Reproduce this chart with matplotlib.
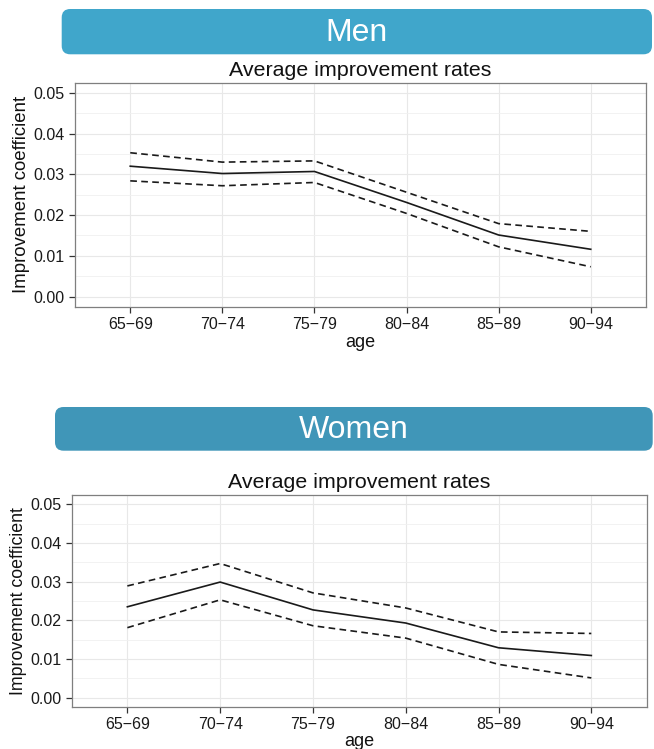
import numpy as np
import matplotlib.pyplot as plt
from matplotlib.patches import FancyBboxPatch

plt.rcParams['font.family'] = ['Liberation Sans', 'DejaVu Sans']

# --- Data ---
ages = ["65-69", "70-74", "75-79", "80-84", "85-89", "90-94"]

men_mean = [0.0320, 0.0302, 0.0307, 0.0231, 0.0151, 0.0116]
men_upper = [0.0353, 0.0330, 0.0333, 0.0256, 0.0179, 0.0160]
men_lower = [0.0284, 0.0272, 0.0280, 0.0204, 0.0122, 0.0073]

women_mean = [0.0235, 0.0299, 0.0227, 0.0193, 0.0129, 0.0109]
women_upper = [0.0289, 0.0347, 0.0271, 0.0232, 0.0170, 0.0166]
women_lower = [0.0181, 0.0253, 0.0186, 0.0154, 0.0086, 0.0051]

W, H = 654, 749
fig = plt.figure(figsize=(W / 100, H / 100), dpi=100)


def px_box(left, top, right, bottom):
    # pixel box (from top-left) -> figure fraction rect
    return [left / W, 1 - bottom / H, (right - left) / W, (bottom - top) / H]


def banner(left, top, right, bottom, color, label):
    x, y, w, h = px_box(left, top, right, bottom)
    patch = FancyBboxPatch((x, y), w, h,
                           boxstyle="round,pad=0,rounding_size=0.013",
                           transform=fig.transFigure, facecolor=color,
                           edgecolor='none', mutation_aspect=W / H)
    fig.patches.append(patch)
    fig.text(x + w / 2, y + h / 2 - 1 / H, label, ha='center', va='center',
             color='white', fontsize=23)


def panel(rect, mean, upper, lower, title, title_y, ylab_x, xlab_y, ylab_size):
    ax = fig.add_axes(rect)
    xs = np.arange(len(ages))
    dash = (0, (4, 2.6))
    ax.plot(xs, upper, color='#1a1a1a', lw=1.2, ls=dash)
    ax.plot(xs, lower, color='#1a1a1a', lw=1.2, ls=dash)
    ax.plot(xs, mean, color='#1a1a1a', lw=1.2)

    ax.set_xlim(-0.6, len(ages) - 1 + 0.6)
    ax.set_ylim(-0.0025, 0.0525)
    ax.set_xticks(xs)
    ax.set_xticklabels([a.replace("-", "\u2212") for a in ages])
    ax.set_yticks(np.arange(0, 0.051, 0.01))
    ax.set_yticks(np.arange(0.005, 0.05, 0.01), minor=True)
    ax.set_yticklabels([f"{v:.2f}" for v in np.arange(0, 0.051, 0.01)])

    ax.grid(True, which='major', color='#e8e8e8', lw=0.8, zorder=0)
    ax.grid(True, which='minor', axis='y', color='#f0f0f0', lw=0.6, zorder=0)
    ax.set_axisbelow(True)
    for s in ax.spines.values():
        s.set_color('#7f7f7f')
        s.set_linewidth(0.9)
    ax.tick_params(which='major', length=4.3, width=0.9, color='#333333',
                   labelsize=11.5, labelcolor='#1a1a1a', pad=3)
    ax.tick_params(which='minor', length=0)

    l, b, w, h = rect
    fig.text(l + w / 2, 1 - title_y / H, title, ha='center', va='center',
             fontsize=15.4, color='#111111')
    fig.text(ylab_x / W, b + h / 2, "Improvement coefficient", rotation=90,
             ha='center', va='center', fontsize=ylab_size, color='#111111')
    fig.text(l + w / 2, 1 - xlab_y / H, "age", ha='center', va='center',
             fontsize=13, color='#111111')
    return ax


banner(61.7, 9, 652, 54.3, '#40a6cb', "Men")
panel(px_box(75, 82.7, 646, 306.7), men_mean, men_upper, men_lower,
      "Average improvement rates", 70.7, 22, 342.5, 13.4)

banner(55, 407, 652.7, 450.7, '#4096b8', "Women")
panel(px_box(71.7, 494.7, 647, 707.3), women_mean, women_upper, women_lower,
      "Average improvement rates", 482.7, 18.5, 741.5, 12.8)

fig.savefig("out.png", dpi=100)
